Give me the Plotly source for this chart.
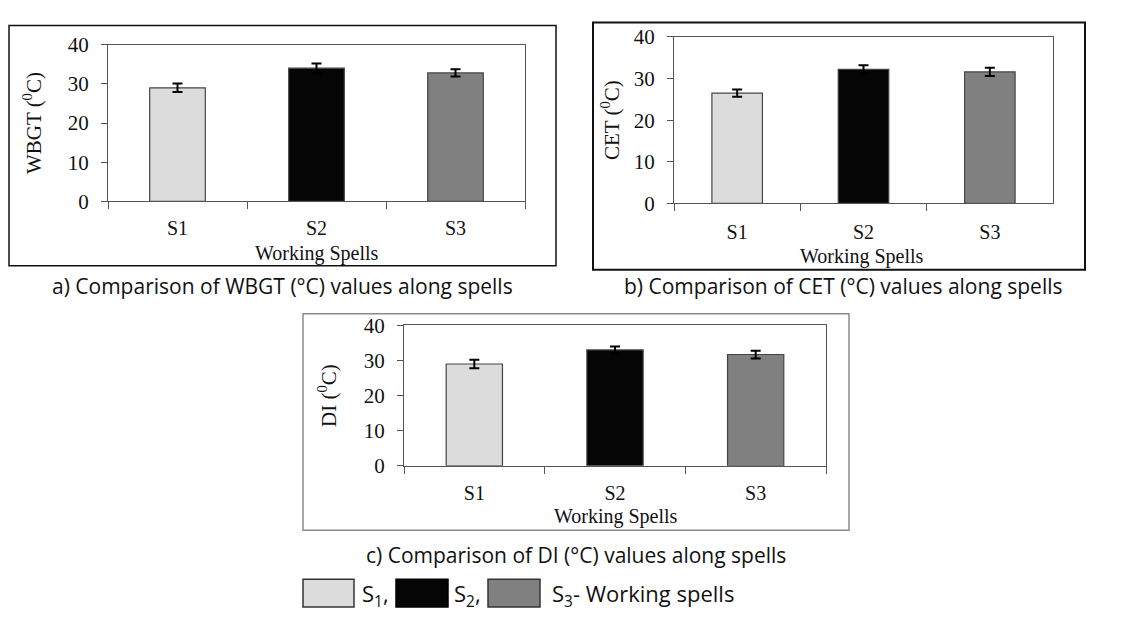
import plotly.graph_objects as go

W, H = 1131, 621

spells = ["S1", "S2", "S3"]
bar_colors = ["#dcdcdc", "#050505", "#808080"]

wbgt_vals = [29.0, 34.0, 32.8]
wbgt_err = [1.1, 1.2, 0.9]
cet_vals = [26.5, 32.2, 31.6]
cet_err = [0.9, 1.0, 1.0]
di_vals = [29.0, 33.0, 31.7]
di_err = [1.2, 1.0, 1.1]

y_ticks = [0, 10, 20, 30, 40]

panels = [
    dict(vals=wbgt_vals, err=wbgt_err, ytitle="WBGT (<sup>0</sup>C)", xs="x", ys="y",
         px=(108, 525), py=(34, 197), box=(9, 14, 556, 264), boxcol="#111", boxw=1.5,
         lab_off=9, ytstand=20, wsxy=(317, 251),
         cap="a) Comparison of WBGT (°C) values along spells", capxy=(282, 285)),
    dict(vals=cet_vals, err=cet_err, ytitle="CET (<sup>0</sup>C)", xs="x2", ys="y2",
         px=(674, 1053), py=(26, 199), box=(593, 11, 1085, 268), boxcol="#111", boxw=2,
         lab_off=11, ytstand=8, wsxy=(862, 254),
         cap="b) Comparison of CET (°C) values along spells", capxy=(843, 285)),
    dict(vals=di_vals, err=di_err, ytitle="DI (<sup>0</sup>C)", xs="x3", ys="y3",
         px=(404, 826), py=(326, 472), box=(303, 314, 849, 539), boxcol="#8a8a8a", boxw=1.5,
         lab_off=9, ytstand=21, wsxy=(616, 525),
         cap="c) Comparison of DI (°C) values along spells", capxy=(576, 565)),
]

serif = "Liberation Serif, Times New Roman, serif"
capfont = "Open Sans, sans-serif"

fig = go.Figure()
shapes = []
annotations = []
layout = dict(width=W, height=H, margin=dict(l=0, r=0, t=0, b=0),
              paper_bgcolor="white", plot_bgcolor="white", showlegend=False,
              bargap=0.6, font=dict(family=serif, size=20, color="#111"))

for i, p in enumerate(panels):
    fig.add_trace(go.Bar(
        x=spells, y=p["vals"], xaxis=p["xs"], yaxis=p["ys"],
        marker=dict(color=bar_colors, line=dict(color="#444", width=1.2)),
        error_y=dict(type="data", array=p["err"], visible=True,
                     color="#000", thickness=2, width=5),
    ))
    suffix = "" if i == 0 else str(i + 1)
    xdom = [p["px"][0] / W, p["px"][1] / W]
    ydom = [1 - p["py"][1] / H, 1 - p["py"][0] / H]
    layout["xaxis" + suffix] = dict(
        domain=xdom, anchor=p["ys"], type="category",
        showline=True, linecolor="#555", linewidth=1, mirror=True,
        ticks="outside", tickson="boundaries", ticklen=7, tickcolor="#555",
        showgrid=False, ticklabelstandoff=p["lab_off"],
        tickfont=dict(family=serif, size=20, color="#111"),
    )
    layout["yaxis" + suffix] = dict(
        domain=ydom, anchor=p["xs"], range=[0, 40], tickvals=y_ticks,
        showline=True, linecolor="#555", linewidth=1, mirror=True,
        ticks="outside", ticklen=6, tickcolor="#555", showgrid=False, zeroline=False,
        ticklabelstandoff=8,
        tickfont=dict(family=serif, size=21, color="#111"),
        title=dict(text=p["ytitle"], standoff=p["ytstand"],
                   font=dict(family=serif, size=21, color="#111")),
    )
    # x-axis title placed as text just under the tick labels
    annotations.append(dict(text="Working Spells", xref="paper", yref="paper",
                            x=p["wsxy"][0] / W, y=1 - p["wsxy"][1] / H,
                            xanchor="center", yanchor="middle", showarrow=False,
                            font=dict(family=serif, size=20, color="#111")))
    x0, y0, x1, y1 = p["box"]
    shapes.append(dict(type="rect", xref="paper", yref="paper",
                       x0=x0 / W, x1=x1 / W, y0=1 - y1 / H, y1=1 - y0 / H,
                       line=dict(color=p["boxcol"], width=p["boxw"]), layer="below"))
    annotations.append(dict(text=p["cap"], xref="paper", yref="paper",
                            x=p["capxy"][0] / W, y=1 - p["capxy"][1] / H,
                            xanchor="center", yanchor="middle", showarrow=False,
                            font=dict(family=capfont, size=21, color="#111")))

# Legend key (drawn below the panels)
legend_items = [
    (303, 354, bar_colors[0], "#333", "S<sub>1</sub>,", 360),
    (396, 448, bar_colors[1], "#000", "S<sub>2</sub>,", 452),
    (488, 540, bar_colors[2], "#333", "S<sub>3</sub>- Working spells", 550),
]
for bx0, bx1, fc, lc, txt, tx in legend_items:
    shapes.append(dict(type="rect", xref="paper", yref="paper",
                       x0=bx0 / W, x1=bx1 / W, y0=1 - 619 / H, y1=1 - 590 / H,
                       fillcolor=fc, line=dict(color=lc, width=1.5)))
    annotations.append(dict(text=txt, xref="paper", yref="paper",
                            x=tx / W, y=1 - 606 / H, xanchor="left", yanchor="middle",
                            showarrow=False,
                            font=dict(family=capfont, size=22, color="#111")))

layout["shapes"] = shapes
layout["annotations"] = annotations
fig.update_layout(**layout)
fig.write_html("out.html", config={"displayModeBar": False},
               post_script="document.body.style.margin='0';")
